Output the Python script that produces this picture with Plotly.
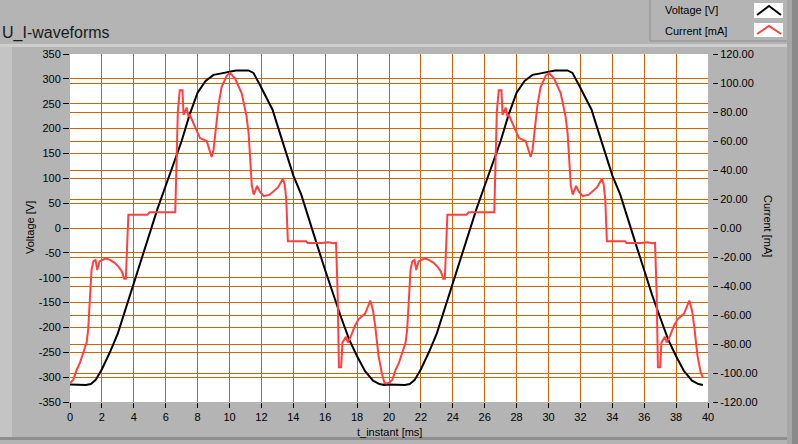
import plotly.graph_objects as go

# ---------------- data ----------------
t_voltage = [0, 0.5, 1.0, 1.3, 1.6, 2.0, 2.5, 3.0, 3.5, 4.0, 4.5, 5.0, 5.5, 6.0, 6.5, 7.0, 7.5, 8.0,
             8.5, 9.0, 9.5, 10.0, 10.4, 11.2, 11.5, 11.9, 12.3, 12.7, 13.0, 13.5, 14.0, 14.5, 15.0,
             15.5, 16.0, 16.5, 17.0, 17.5, 18.0, 18.5, 19.0, 19.4, 19.7,
             20.0, 20.5, 21.0, 21.3, 21.6, 22.0, 22.5, 23.0, 23.5, 24.0, 24.5, 25.0, 25.5, 26.0, 26.5,
             27.0, 27.5, 28.0, 28.5, 29.0, 29.5, 30.0, 30.4, 31.2, 31.5, 31.9, 32.3, 32.7, 33.0, 33.5,
             34.0, 34.5, 35.0, 35.5, 36.0, 36.5, 37.0, 37.5, 38.0, 38.5, 39.0, 39.4, 39.68]
voltage = [-315, -316, -316, -314, -306, -284, -250, -212, -161, -110, -62, -8, 40, 85, 130, 175, 228, 272,
           296, 308, 311, 315, 317, 317, 312, 288, 262, 238, 207, 157, 106, 67, 18,
           -35, -85, -135, -180, -224, -258, -288, -307, -314, -316,
           -315, -316, -316, -314, -306, -284, -250, -212, -161, -110, -62, -8, 40, 85, 130,
           175, 228, 272, 296, 308, 311, 315, 317, 317, 312, 288, 262, 238, 207, 157,
           106, 67, 18, -35, -85, -135, -180, -224, -258, -288, -307, -314, -316]

t_current = [0.0, 0.21, 0.42, 0.62, 0.83, 1.04, 1.14, 1.25, 1.35, 1.46, 1.6, 1.71, 1.85, 2.23, 2.5, 2.8,
             3.06, 3.25, 3.4, 3.5, 3.58, 3.66, 4.85, 5.0, 6.6, 6.68, 6.76, 6.88, 7.05, 7.12, 7.22, 7.32,
             7.42, 7.52, 7.63, 7.9, 8.15, 8.57, 8.88, 9.0, 9.15, 9.3, 9.5, 9.82, 10.03, 10.35, 10.76,
             11.07, 11.2, 11.3, 11.4, 11.52, 11.73, 11.9, 12.15, 12.52, 13.04, 13.35, 13.46, 13.56,
             13.66, 14.8, 14.9, 15.8, 16.2, 16.5, 16.68, 16.78, 16.86, 17.0, 17.08, 17.3, 17.42, 17.63,
             17.88, 18.09, 18.5, 18.83, 19.0, 19.14, 19.34, 19.55, 19.72, 19.97,
             20.21, 20.42, 20.62, 20.83, 21.04, 21.14, 21.25, 21.35, 21.46, 21.6, 21.71, 21.85, 22.23,
             22.5, 22.8, 23.06, 23.25, 23.4, 23.5, 23.58, 23.66, 24.85, 25.0, 26.6, 26.68, 26.76, 26.88,
             27.05, 27.12, 27.22, 27.32, 27.42, 27.52, 27.63, 27.9, 28.15, 28.57, 28.88, 29.0, 29.15,
             29.3, 29.5, 29.82, 30.03, 30.35, 30.76, 31.07, 31.2, 31.3, 31.4, 31.52, 31.73, 31.9, 32.15,
             32.52, 33.04, 33.35, 33.46, 33.56, 33.66, 34.8, 34.9, 35.8, 36.2, 36.5, 36.68, 36.78, 36.86,
             37.0, 37.08, 37.3, 37.42, 37.63, 37.88, 38.09, 38.5, 38.83, 39.0, 39.14, 39.34, 39.55, 39.68]
current = [-107, -104.6, -97.7, -93, -86, -79, -70, -49, -29, -23, -22, -29, -23, -21, -22, -24,
           -27, -30, -35, -35, -10, 9.2, 9.2, 10.8, 10.8, 40, 80, 95, 95, 78, 80, 83,
           77, 78, 75, 68, 62, 60, 49, 54, 70, 84, 97, 105, 107, 103, 93,
           77, 65, 45, 29, 23, 29, 25, 22, 23, 28, 34, 30, 19.5,
           -9.2, -9.2, -10.3, -10.3, -9.8, -10.5, -10.3, -45, -96, -96, -79, -75, -79, -74,
           -67, -63, -59, -50, -57, -68, -88, -100, -107, -107,
           -104.6, -97.7, -93, -86, -79, -70, -49, -29, -23, -22, -29, -23, -21,
           -22, -24, -27, -30, -35, -35, -10, 9.2, 9.2, 10.8, 10.8, 40, 80, 95,
           95, 78, 80, 83, 77, 78, 75, 68, 62, 60, 49, 54, 70,
           84, 97, 105, 107, 103, 93, 77, 65, 45, 29, 23, 29, 25, 22,
           23, 28, 34, 30, 19.5, -9.2, -9.2, -10.3, -10.3, -9.8, -10.5, -10.3, -45, -96,
           -96, -79, -75, -79, -74, -67, -63, -59, -50, -57, -68, -88, -100, -103]

x_ticks = [0, 2, 4, 6, 8, 10, 12, 14, 16, 18, 20, 22, 24, 26, 28, 30, 32, 34, 36, 38, 40]
v_ticks = [-350, -300, -250, -200, -150, -100, -50, 0, 50, 100, 150, 200, 250, 300, 350]
i_ticks = [-120, -100, -80, -60, -40, -20, 0, 20, 40, 60, 80, 100, 120]

title_text = "U_I-waveforms"
x_title = "t_instant [ms]"
v_title = "Voltage [V]"
i_title = "Current [mA]"
legend_names = ["Voltage [V]", "Current [mA]"]

# ---------------- styling / geometry ----------------
W, H = 798, 444
PL, PR, PT, PB = 70, 712, 54, 402   # paper box in pixels
GRID = "#cc6600"
BG = "#b4b4b4"
FONT = "Liberation Sans"
V_COLOR = "#000000"
I_COLOR = "#ff4040"


def px(x):
    return (x - PL) / (PR - PL)


def py(y):
    return (PB - y) / (PB - PT)


fig = go.Figure()
fig.add_trace(go.Scatter(x=t_voltage, y=voltage, mode="lines", name=legend_names[0],
                         line=dict(color=V_COLOR, width=2), yaxis="y"))
fig.add_trace(go.Scatter(x=t_current, y=current, mode="lines", name=legend_names[1],
                         line=dict(color=I_COLOR, width=2), yaxis="y2"))

tickfont = dict(family=FONT, size=11, color="#000000")

fig.update_layout(
    width=W, height=H,
    margin=dict(l=PL, r=W - PR, t=PT, b=H - PB, pad=0),
    paper_bgcolor=BG, plot_bgcolor="#ffffff",
    showlegend=False,
    xaxis=dict(domain=[0, px(708)], range=[0, 40], tickvals=x_ticks,
               ticktext=[str(v) for v in x_ticks], showgrid=True, gridcolor=GRID, gridwidth=1,
               zeroline=False, showline=False, ticks="outside", ticklen=5, tickcolor="#000000",
               tickfont=tickfont),
    yaxis=dict(range=[-350, 350], tickvals=v_ticks, ticktext=[str(v) for v in v_ticks],
               showgrid=True, gridcolor=GRID, gridwidth=1, zeroline=False, showline=False,
               ticks="outside", ticklen=6, tickcolor="#000000", tickfont=tickfont),
    yaxis2=dict(range=[-120, 120], tickvals=i_ticks, ticktext=["%.2f" % v for v in i_ticks],
                overlaying="y", side="right", anchor="free", position=1.0,
                showgrid=True, gridcolor=GRID, gridwidth=1, zeroline=False, showline=False,
                ticks="outside", ticklen=5, tickcolor="#000000", tickfont=tickfont),
)

shapes = []
# frame decoration
shapes.append(dict(type="rect", xref="paper", yref="paper", x0=px(0), x1=px(12), y0=py(438), y1=py(44),
                   fillcolor="#c4c4c4", line=dict(width=0), layer="below"))
shapes.append(dict(type="rect", xref="paper", yref="paper", x0=px(0), x1=px(787), y0=py(47), y1=py(44),
                   fillcolor="#cecece", line=dict(width=0), layer="below"))
shapes.append(dict(type="rect", xref="paper", yref="paper", x0=px(0), x1=px(798), y0=py(440), y1=py(437),
                   fillcolor="#8e8e8e", line=dict(width=0), layer="below"))
shapes.append(dict(type="rect", xref="paper", yref="paper", x0=px(787), x1=px(792), y0=py(444), y1=py(0),
                   fillcolor="#a6a6a6", line=dict(width=0), layer="below"))
shapes.append(dict(type="rect", xref="paper", yref="paper", x0=px(792), x1=px(798), y0=py(444), y1=py(0),
                   fillcolor="#8a8a8a", line=dict(width=0), layer="below"))
# legend panel borders
shapes.append(dict(type="line", xref="paper", yref="paper", x0=px(650), x1=px(650), y0=py(41), y1=py(0),
                   line=dict(color="#8c8c8c", width=1)))
shapes.append(dict(type="line", xref="paper", yref="paper", x0=px(650), x1=px(787), y0=py(41), y1=py(41),
                   line=dict(color="#8c8c8c", width=1)))
# legend swatches
for (ytop, ybot, col) in [(3, 18, V_COLOR), (23, 37, I_COLOR)]:
    shapes.append(dict(type="rect", xref="paper", yref="paper", x0=px(754), x1=px(783),
                       y0=py(ybot), y1=py(ytop), fillcolor="#ffffff", line=dict(width=0)))
    path = "M %f %f L %f %f L %f %f" % (px(757), py(ybot - 3), px(769), py(ytop + 3),
                                         px(781), py(ybot - 3))
    shapes.append(dict(type="path", xref="paper", yref="paper", path=path,
                       line=dict(color=col, width=2)))

annotations = [
    dict(text=title_text, x=px(0), y=py(33), xref="paper", yref="paper", xanchor="left",
         yanchor="middle", showarrow=False, font=dict(family=FONT, size=16, color="#1a1a1a")),
    dict(text=v_title, x=px(30), y=py(228), xref="paper", yref="paper", xanchor="center",
         yanchor="middle", textangle=-90, showarrow=False, font=dict(family=FONT, size=11, color="#000")),
    dict(text=i_title, x=px(768), y=py(226), xref="paper", yref="paper", xanchor="center",
         yanchor="middle", textangle=90, showarrow=False, font=dict(family=FONT, size=11, color="#000")),
    dict(text=x_title, x=px(389), y=py(432), xref="paper", yref="paper", xanchor="center",
         yanchor="middle", showarrow=False, font=dict(family=FONT, size=11, color="#000")),
    dict(text=legend_names[0], x=px(663), y=py(10), xref="paper", yref="paper", xanchor="left",
         yanchor="middle", showarrow=False, font=dict(family=FONT, size=11, color="#000")),
    dict(text=legend_names[1], x=px(663), y=py(31), xref="paper", yref="paper", xanchor="left",
         yanchor="middle", showarrow=False, font=dict(family=FONT, size=11, color="#000")),
]

fig.update_layout(shapes=shapes, annotations=annotations)
fig.write_html("out.html", config={"displayModeBar": False},
               post_script="document.body.style.margin='0px';document.body.style.background='%s';" % BG)
